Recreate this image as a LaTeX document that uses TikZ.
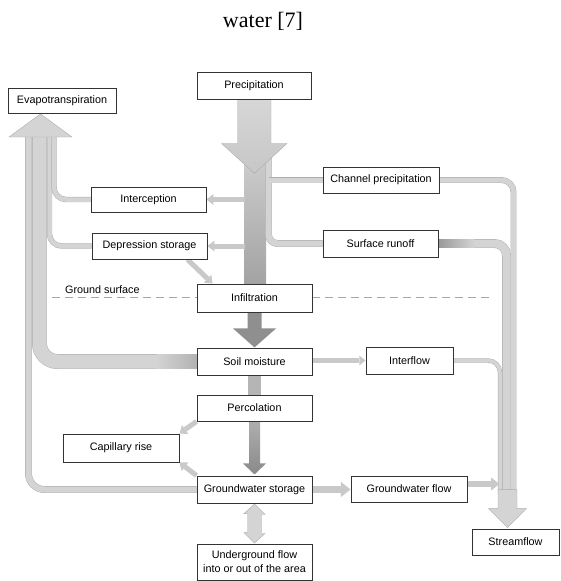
\documentclass[tikz,border=0pt]{standalone}
\usepackage{fontspec}
\setmainfont{Liberation Serif}
\setsansfont{Liberation Sans}
\usetikzlibrary{calc}
\usetikzlibrary{arrows.meta}
\pgfdeclarelayer{background}
\pgfsetlayers{background,main}
\definecolor{pipefill}{gray}{0.83}
\definecolor{pipeedge}{gray}{0.68}
\definecolor{arrowgray}{gray}{0.79}
\definecolor{midflow}{gray}{0.71}
\definecolor{darkflow}{gray}{0.56}

\begin{document}
\begin{tikzpicture}[x=1pt, y=-1pt]
        % ================= 样式定义 =================
        \tikzset{
            % 方框节点:白底黑边
            flow_box/.style={draw=black!80, line width=0.9pt, fill=white, inner sep=2pt, minimum height=26pt,
                font=\sffamily\fontsize{10.8}{14}\selectfont, align=center},
            % 灰色管道 (带浅边)
            pipe_flow/.style={draw=pipeedge, line width=0.45pt, double=pipefill, double distance=#1, rounded corners=12pt},
            % 细箭头
            flow_arrow/.style={line width=#1, draw=arrowgray, -{Triangle[width=0pt 2.2, length=0pt 1.4, line width=0pt]}},
            % 粗块箭头
            block_arrow/.style={draw=pipeedge, line width=0.4pt, fill=pipefill},
            dark_arrow/.style={fill=darkflow, draw=none},
            % 地面虚线
            ground_line/.style={draw=gray!70, line width=0.6pt, dash pattern=on 8pt off 5pt}
        }
        \useasboundingbox (0,0) rectangle (560,581);

        \node[font=\fontsize{22}{24}\selectfont, anchor=base] (title) at (263,27) {water [7]};

        % ================= 1. 放置方框 =================
        \node[flow_box, minimum width=108pt, minimum height=25pt] (evap) at (62,100.5) {Evapotranspiration};
        \node[flow_box, minimum width=114pt, minimum height=27pt] (prec) at (254,85.5) {Precipitation};
        \node[flow_box, minimum width=115pt, minimum height=25pt] (intc) at (148.5,199.5) {Interception};
        \node[flow_box, minimum width=115pt] (depr) at (149.5,246) {Depression storage};
        \node[flow_box, minimum width=116pt] (chan) at (381,180) {Channel precipitation};
        \node[flow_box, minimum width=115pt, minimum height=27pt] (surf) at (380.5,243.5) {Surface runoff};
        \node[flow_box, minimum width=115pt, minimum height=28pt] (infl) at (254.5,298) {Infiltration};
        \node[flow_box, minimum width=115pt, minimum height=27pt] (soil) at (254.5,361.5) {Soil moisture};
        \node[flow_box, minimum width=87pt, minimum height=27pt] (intf) at (409.5,360.5) {Interflow};
        \node[flow_box, minimum width=115pt] (perc) at (254.5,408) {Percolation};
        \node[flow_box, minimum width=116pt, minimum height=28pt] (capr) at (121,448) {Capillary rise};
        \node[flow_box, minimum width=115pt, minimum height=27pt] (gws) at (254.5,489.5) {Groundwater storage};
        \node[flow_box, minimum width=116pt] (gwf) at (409,489) {Groundwater flow};
        \node[flow_box, minimum width=115pt, minimum height=36pt] (ugf) at (254.5,562) {Underground flow\\into or out of the area};
        \node[flow_box, minimum width=87pt] (strm) at (515.5,542) {Streamflow};

        \node[anchor=base west, inner sep=0pt, font=\sffamily\fontsize{10.8}{14}\selectfont] (gs_label) at (65,293) {Ground surface};

        % ================= 2. 流线 (背景层) =================
        \begin{pgfonlayer}{background}
            \coordinate (gs_l) at (52,297);
            \coordinate (gs_r) at (492,297);
            \draw[ground_line] (gs_l) -- (gs_r);

            % 左侧蒸散管束
            \draw[pipe_flow=6pt, rounded corners=16pt] (gws.west) -| (28.5,132);
            \draw[pipe_flow=14pt, rounded corners=18pt] (soil.west) -| (39.5,132);
            \shade[left color=pipefill, right color=black!30] ($(soil.west)+(-40,-7)$) rectangle ($(soil.west)+(0,7)$);
            \draw[pipe_flow=4.5pt] (depr.west) -| (49.5,132);
            \draw[pipe_flow=4.5pt] (intc.west) -| (54,132);
            \filldraw[block_arrow] (9,137) -- ($(evap.south)+(-21.5,0.5)$) -- (72,137) -- cycle;

            % 中央降水柱
            \shade[top color=black!20, bottom color=black!36] ($(prec.south)+(-10,60)$) rectangle ($(infl.north)+(11.5,0)$);
            \coordinate (split) at (268.5,150);
            \draw[pipe_flow=6pt, rounded corners=9pt] (split) |- (surf.west);
            \draw[pipe_flow=5pt, rounded corners=0pt] (split |- chan.west) -- (chan.west);
            \shadedraw[draw=pipeedge, line width=0.4pt, top color=black!16, bottom color=black!22]
                ($(prec.south)+(-16.5,0)$) -- ++(0,44) -- ++(-16,0) -- ($(prec.south)+(0.5,74)$)
                -- ($(prec.south)+(33,44)$) -- ++(-16,0) -- ($(prec.south)+(17,0)$) -- cycle;

            \coordinate (col_l) at (245,0);
            \draw[flow_arrow=5pt] (intc.east -| col_l) -- (intc.east);
            \draw[flow_arrow=5pt] (depr.east -| col_l) -- (depr.east);
            \draw[flow_arrow=5pt] ($(depr.south)+(38,0)$) -- ($(infl.north west)+(16,0)$);

            % 下渗 -> 土壤水 -> 深层渗漏 -> 地下水
            \fill[dark_arrow] ($(infl.south)+(-7,0)$) -- ++(0,16) -- ++(-14.5,0) -- ($(infl.south)+(0,35)$)
                -- ($(infl.south)+(21.5,16)$) -- ++(-14.5,0) -- ($(infl.south)+(7,0)$) -- cycle;
            \fill[midflow] ($(soil.south)+(-6.5,0)$) rectangle ($(perc.north)+(6.5,0)$);
            \shade[top color=black!32, bottom color=black!46] ($(perc.south)+(-5.5,0)$) -- ++(0,42) -- ++(-6,0)
                -- ($(perc.south)+(0,53)$) -- ($(perc.south)+(11.5,42)$) -- ++(-6,0) -- ($(perc.south)+(5.5,0)$) -- cycle;
            \filldraw[block_arrow] ($(gws.south)+(0,0.5)$) -- ++(10.5,10.5) -- ++(-3.5,0) -- ++(0,19) -- ++(3.5,0)
                -- ($(ugf.north)+(0,-0.5)$) -- ++(-10.5,-10.5) -- ++(3.5,0) -- ++(0,-19) -- ++(-3.5,0) -- cycle;
            \draw[flow_arrow=5pt] (perc.south west) -- (capr.north east);
            \draw[flow_arrow=5pt] (gws.north west) -- (capr.south east);
            \draw[flow_arrow=4.5pt] (soil.east |- intf.west) -- (intf.west);
            \draw[flow_arrow=7pt] (gws.east) -- (gws.east -| gwf.west);

            % 右侧河川径流
            \draw[pipe_flow=5pt] (chan.east) -| (513.5,495);
            \draw[pipe_flow=8pt] (surf.east) -| (506.5,495);
            \shade[left color=black!40, right color=pipefill] ($(surf.east)+(0,-4)$) rectangle ($(surf.east)+(36,4)$);
            \draw[pipe_flow=3.5pt] (intf.east) -| (500,495);
            \draw[flow_arrow=6pt] ($(gwf.east)+(0,-5)$) -- ++(32,0);
            \filldraw[block_arrow] ($(strm.north)+(-8,-1)$) -- ++(19,-19) -- ++(-9.5,0) -- ++(0,-19)
                -- ++(-19,0) -- ++(0,19) -- ++(-9.5,0) -- cycle;
        \end{pgfonlayer}

    \end{tikzpicture}
\end{document}
